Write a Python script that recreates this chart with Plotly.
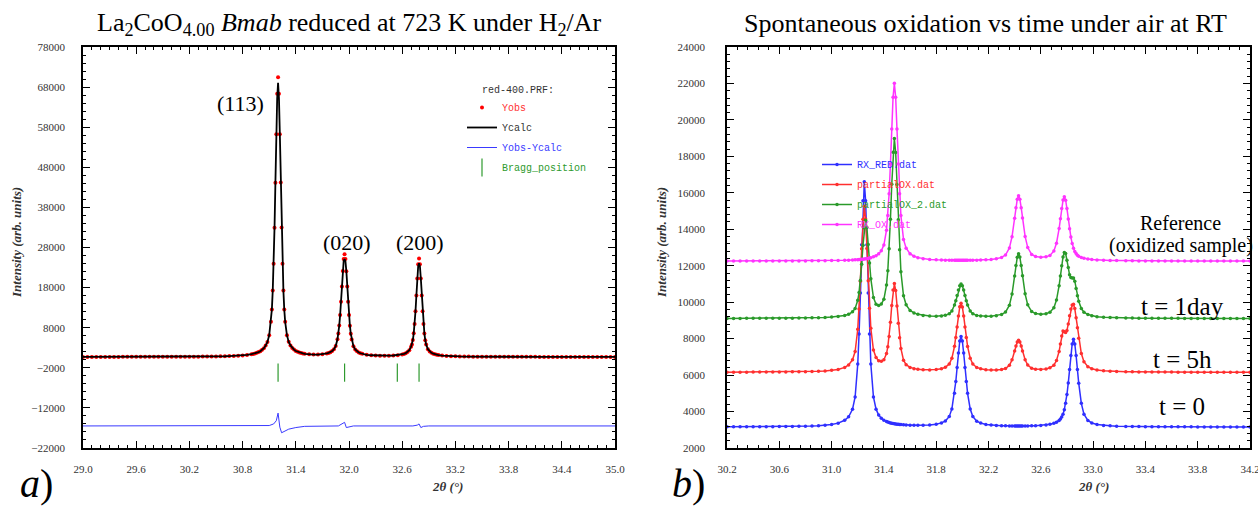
import plotly.graph_objects as go

# ---------------- panel (a): Rietveld fit of the reduced La2CoO4.00 ----------------
two_theta_a = [
    29.00, 29.05, 29.10, 29.15, 29.20, 29.25, 29.30, 29.35, 29.40, 29.45,
    29.50, 29.55, 29.60, 29.65, 29.70, 29.75, 29.80, 29.85, 29.90, 29.95,
    30.00, 30.05, 30.10, 30.15, 30.20, 30.25, 30.30, 30.35, 30.40, 30.45,
    30.50, 30.55, 30.60, 30.65, 30.70, 30.75, 30.80, 30.85, 30.90,
    30.92, 30.94, 30.96, 30.98, 31.00, 31.02, 31.04, 31.06, 31.08, 31.10, 31.12,
    31.13, 31.14, 31.15, 31.16, 31.17, 31.18, 31.19, 31.20, 31.21, 31.22,
    31.23, 31.24, 31.25, 31.26, 31.27, 31.28,
    31.30, 31.32, 31.34, 31.36, 31.38, 31.40, 31.42, 31.44, 31.46, 31.48, 31.50,
    31.55, 31.60, 31.65, 31.70, 31.75,
    31.77, 31.79, 31.81, 31.83, 31.85, 31.87,
    31.88, 31.89, 31.90, 31.91, 31.92, 31.93, 31.94, 31.95, 31.96, 31.97,
    31.98, 31.99, 32.00, 32.01, 32.02, 32.03,
    32.05, 32.07, 32.09, 32.11, 32.13, 32.15,
    32.20, 32.25, 32.30, 32.35, 32.40, 32.45, 32.50, 32.55, 32.60,
    32.62, 32.64, 32.66, 32.68, 32.70,
    32.71, 32.72, 32.73, 32.74, 32.75, 32.76, 32.77, 32.78, 32.79, 32.80,
    32.81, 32.82, 32.83, 32.84, 32.85, 32.86, 32.87,
    32.89, 32.91, 32.93, 32.95, 32.97, 32.99, 33.01,
    33.05, 33.10, 33.15, 33.20, 33.25, 33.30, 33.35, 33.40, 33.45, 33.50,
    33.55, 33.60, 33.65, 33.70, 33.75, 33.80, 33.85, 33.90, 33.95, 34.00,
    34.05, 34.10, 34.15, 34.20, 34.25, 34.30, 34.35, 34.40, 34.45, 34.50,
    34.55, 34.60, 34.65, 34.70, 34.75, 34.80, 34.85, 34.90, 34.95, 35.00,
]
y_obs = [
    717, 718, 718, 719, 720, 721, 722, 723, 724, 725,
    727, 728, 730, 732, 734, 736, 738, 741, 744, 747,
    751, 755, 759, 764, 771, 777, 786, 795, 806, 820,
    836, 857, 882, 914, 957, 1014, 1093, 1208, 1385,
    1472, 1583, 1734, 1915, 2126, 2477, 2898, 3530, 4431, 6112, 9454,
    12524, 17264, 23954, 32944, 44164, 56224, 66334, 70457, 66349, 56240,
    44180, 32960, 23970, 17280, 12540, 9480,
    6144, 4469, 3573, 2949, 2535, 2191, 1988, 1817, 1676, 1577, 1489,
    1354, 1297, 1306, 1387, 1574,
    1712, 1900, 2180, 2631, 3413, 5095,
    6532, 8520, 11177, 14465, 18282, 22109, 25157, 26337, 25155, 22103,
    18271, 14449, 11159, 8498, 6506, 5064,
    3370, 2578, 2116, 1826, 1626, 1476,
    1248, 1125, 1057, 1023, 1013, 1027, 1072, 1159, 1345,
    1470, 1656, 1922, 2380, 3257,
    3836, 4916, 6586, 8936, 12095, 16035, 20275, 23825, 25275, 23811,
    20261, 16021, 12081, 8921, 6571, 4901, 3821,
    2642, 2051, 1729, 1508, 1357, 1235, 1164,
    1040, 952, 895, 856, 828, 808, 793, 781, 772, 763,
    758, 752, 747, 744, 739, 737, 734, 732, 730, 728,
    726, 725, 723, 722, 721, 720, 719, 718, 717, 716,
    716, 715, 715, 714, 713, 713, 712, 712, 711, 711,
]
# calculated profile: identical to the observed one except at the peak tops
calc_top_theta = [31.19, 31.20, 31.21, 31.94, 31.95, 31.96, 32.78, 32.79, 32.80]
calc_top_value = [65200, 69100, 65300, 24700, 25100, 24600, 23300, 24100, 23300]

diff_theta = [29.00, 31.10, 31.15, 31.18, 31.20, 31.22, 31.24, 31.27, 31.32, 31.40,
              31.50, 31.88, 31.93, 31.95, 31.97, 32.00, 32.05, 32.72, 32.77, 32.79,
              32.81, 32.84, 32.90, 35.00]
diff_value = [-16500, -16400, -16000, -15200, -13300, -16800, -18200, -17900, -17300, -16900,
              -16600, -16500, -16000, -15600, -16900, -16700, -16500, -16500, -16300, -16000,
              -16900, -16600, -16500, -16500]

bragg_theta = [31.20, 31.95, 32.545, 32.79]
bragg_level = -3200

peak_hkl = ["(113)", "(020)", "(200)"]
peak_hkl_theta = [30.78, 31.98, 32.80]
peak_hkl_level = [64000, 29200, 29200]

ticks_a = [29.0, 29.6, 30.2, 30.8, 31.4, 32.0, 32.6, 33.2, 33.8, 34.4, 35.0]
ticks_b = [30.2, 30.6, 31.0, 31.4, 31.8, 32.2, 32.6, 33.0, 33.4, 33.8, 34.2]

# ---------------- panel (b): spontaneous re-oxidation ----------------
two_theta_b = [
    30.20, 30.25, 30.30, 30.35, 30.40, 30.45, 30.50, 30.55, 30.60, 30.65,
    30.70, 30.75, 30.80, 30.85, 30.90, 30.95, 31.00, 31.05,
    31.10, 31.13, 31.16, 31.18, 31.20, 31.21, 31.22, 31.23, 31.24, 31.25,
    31.26, 31.27, 31.28, 31.29, 31.30,
    31.32, 31.34, 31.36, 31.38, 31.40, 31.42, 31.43, 31.44, 31.45, 31.46,
    31.47, 31.48, 31.49, 31.50, 31.51, 31.52, 31.53,
    31.55, 31.57, 31.60, 31.63, 31.66, 31.70, 31.75, 31.80, 31.84, 31.87,
    31.90, 31.92, 31.94, 31.95, 31.96, 31.97, 31.98, 31.99, 32.00, 32.01,
    32.02, 32.03, 32.04,
    32.06, 32.08, 32.11, 32.14, 32.18, 32.22, 32.26, 32.30, 32.33, 32.36, 32.38,
    32.40, 32.41, 32.42, 32.43, 32.44, 32.45, 32.46,
    32.48, 32.50, 32.53, 32.56, 32.60, 32.64, 32.67, 32.70, 32.72,
    32.74, 32.75, 32.76, 32.77, 32.78, 32.79, 32.80, 32.81, 32.82, 32.83,
    32.84, 32.85, 32.86, 32.87, 32.88, 32.89,
    32.91, 32.93, 32.96, 32.99, 33.03, 33.08, 33.13, 33.18,
    33.25, 33.30, 33.35, 33.40, 33.45, 33.50, 33.55, 33.60, 33.65, 33.70,
    33.75, 33.80, 33.85, 33.90, 33.95, 34.00, 34.05, 34.10, 34.15, 34.20,
]
rx_red = [
    3160, 3161, 3162, 3164, 3165, 3166, 3168, 3171, 3175, 3179,
    3184, 3190, 3197, 3209, 3225, 3250, 3291, 3364,
    3521, 3709, 4127, 4800, 6602, 8257, 10504, 13153, 15561, 16610,
    15562, 13154, 10505, 8260, 6605,
    4804, 4131, 3810, 3636, 3529, 3449, 3423, 3396, 3375, 3359,
    3342, 3329, 3318, 3306, 3298, 3289, 3284,
    3271, 3263, 3254, 3249, 3248, 3252, 3267, 3306, 3377, 3479,
    3730, 4144, 5005, 5648, 6415, 7211, 7865, 8122, 7865, 7210,
    6413, 5646, 5002,
    4140, 3725, 3472, 3368, 3294, 3257, 3236, 3222, 3215, 3211, 3209,
    3208, 3207, 3207, 3207, 3207, 3207, 3208,
    3209, 3212, 3217, 3224, 3240, 3267, 3299, 3356, 3413,
    3513, 3585, 3700, 3858, 4102, 4452, 4937, 5561, 6305, 7077,
    7710, 7960, 7710, 7077, 6303, 5559,
    4450, 3855, 3509, 3374, 3292, 3241, 3215, 3198,
    3184, 3178, 3173, 3170, 3167, 3165, 3163, 3162, 3161, 3160,
    3159, 3158, 3158, 3157, 3157, 3156, 3156, 3155, 3155, 3155,
]
partial_ox = [
    6159, 6160, 6161, 6162, 6163, 6164, 6166, 6168, 6171, 6174,
    6177, 6182, 6189, 6198, 6211, 6229, 6260, 6312,
    6422, 6553, 6840, 7296, 8514, 9630, 11144, 12931, 14555, 15265,
    14565, 12951, 11174, 9671, 8568,
    7378, 6960, 6791, 6756, 6840, 7181, 7553, 8120, 8899, 9823,
    10663, 11025, 10647, 9789, 8848, 8048, 7460,
    6816, 6573, 6421, 6352, 6314, 6288, 6282, 6301, 6349, 6424,
    6612, 6926, 7577, 8064, 8644, 9248, 9743, 9937, 9742, 9247,
    8643, 8062, 7575,
    6923, 6609, 6420, 6344, 6294, 6276, 6277, 6303, 6359, 6540, 6835,
    7320, 7593, 7818, 7907, 7819, 7595, 7323,
    6841, 6549, 6374, 6324, 6313, 6340, 6398, 6541, 6800,
    7300, 7700, 8150, 8420, 8380, 8330, 8450, 8800, 9250, 9620,
    9850, 9880, 9650, 9150, 8591, 8025,
    7184, 6732, 6461, 6351, 6281, 6237, 6213, 6198,
    6185, 6179, 6174, 6171, 6168, 6166, 6164, 6163, 6162, 6161,
    6160, 6160, 6159, 6159, 6158, 6158, 6157, 6157, 6157, 6156,
]
partial_ox_2 = [
    9109, 9110, 9111, 9112, 9113, 9114, 9115, 9117, 9119, 9121,
    9124, 9128, 9133, 9140, 9148, 9161, 9181, 9213,
    9274, 9341, 9472, 9654, 10101, 10538, 11192, 12077, 13122, 14073,
    14493, 14095, 13166, 12146, 11288,
    10256, 9889, 9816, 9894, 10163, 10940, 11730, 12925, 14551, 16473,
    18222, 18979, 18210, 16451, 14517, 12876, 11668,
    10350, 9856, 9550, 9411, 9332, 9274, 9239, 9232, 9247, 9279,
    9368, 9521, 9841, 10081, 10367, 10665, 10908, 11004, 10908, 10664,
    10366, 10079, 9839,
    9519, 9365, 9276, 9243, 9227, 9235, 9262, 9331, 9456, 9834, 10443,
    11442, 12007, 12470, 12653, 12472, 12012, 11450,
    10456, 9853, 9486, 9375, 9336, 9365, 9449, 9694, 10115,
    10903, 11435, 12000, 12483, 12730, 12666, 12300, 11900, 11500, 11350,
    11320, 11330, 11150, 10750, 10350, 10050,
    9650, 9450, 9320, 9254, 9207, 9174, 9156, 9144,
    9132, 9127, 9123, 9120, 9118, 9115, 9114, 9113, 9112, 9111,
    9110, 9110, 9109, 9109, 9108, 9108, 9107, 9107, 9107, 9106,
]
rx_ox = [
    12255, 12255, 12256, 12256, 12257, 12257, 12258, 12259, 12260, 12261,
    12262, 12264, 12266, 12268, 12271, 12275, 12280, 12286,
    12296, 12304, 12314, 12322, 12332, 12337, 12344, 12351, 12359, 12368,
    12378, 12391, 12403, 12419, 12438,
    12486, 12553, 12654, 12820, 13142, 13951, 14751, 15950, 17578, 19499,
    21244, 22005, 21244, 19499, 17579, 15950, 14751,
    13445, 12958, 12657, 12521, 12444, 12384, 12345, 12323, 12311, 12306,
    12302, 12300, 12298, 12298, 12297, 12297, 12297, 12296, 12297, 12297,
    12297, 12297, 12298,
    12300, 12302, 12307, 12313, 12325, 12347, 12383, 12458, 12588, 12973, 13592,
    14606, 15179, 15649, 15835, 15652, 15185, 14615,
    13607, 12995, 12621, 12507, 12464, 12487, 12567, 12809, 13236,
    14040, 14580, 15142, 15602, 15782, 15599, 15135, 14570, 14027, 13570,
    13216, 12959, 12780, 12664, 12579, 12525,
    12450, 12407, 12364, 12338, 12315, 12298, 12287, 12280,
    12272, 12269, 12266, 12264, 12262, 12261, 12260, 12259, 12258, 12257,
    12257, 12256, 12256, 12255, 12255, 12255, 12254, 12254, 12254, 12254,
]
series_b = [
    ("RX_RED.dat", rx_red, "#2f2fff"),
    ("partialOX.dat", partial_ox, "#ff2f2f"),
    ("partialOX_2.dat", partial_ox_2, "#2a9a2a"),
    ("RX_OX.dat", rx_ox, "#ff33ff"),
]
stage_labels = ["Reference", "(oxidized sample)", "t = 1day", "t = 5h", "t = 0"]
stage_theta = [33.665, 33.672, 33.68, 33.68, 33.68]
stage_level = [14360, 13090, 9760, 6880, 4280]
stage_size = [20, 20, 25, 25, 25]

# ---------------- figure ----------------
SERIF = "Liberation Serif"
MONO = "Liberation Mono"
W, H = 1258, 509


def colored(text, color):
    return f"<span style='color:{color}'>{text}</span>"


def paper_text(text, x_px, y_px, size, color="black", angle=0):
    return dict(text=text, x=x_px / W, y=1 - y_px / H, xref="paper", yref="paper",
                xanchor="center", yanchor="middle", showarrow=False, textangle=angle,
                font=dict(family=SERIF, size=size, color=color))


top_lookup = dict(zip(calc_top_theta, calc_top_value))
y_calc = [top_lookup.get(t, v) for t, v in zip(two_theta_a, y_obs)]

fig = go.Figure()

fig.add_trace(go.Scatter(
    x=two_theta_a, y=y_obs, mode="markers", name=colored("Yobs", "#ff3030"),
    marker=dict(color="#ff0000", size=4), xaxis="x", yaxis="y",
    legend="legend", legendgroup="obs"))
fig.add_trace(go.Scatter(
    x=two_theta_a, y=y_calc, mode="lines", name=colored("Ycalc", "#333333"),
    line=dict(color="black", width=1.8), xaxis="x", yaxis="y",
    legend="legend", legendgroup="calc"))
fig.add_trace(go.Scatter(
    x=diff_theta, y=diff_value, mode="lines", name=colored("Yobs-Ycalc", "#3a3aff"),
    line=dict(color="#3a3aff", width=1), xaxis="x", yaxis="y",
    legend="legend", legendgroup="diff"))
fig.add_trace(go.Scatter(
    x=bragg_theta, y=[bragg_level] * len(bragg_theta), mode="markers",
    name=colored("Bragg_position", "#2e9a2e"),
    marker=dict(symbol="line-ns", size=13, color="#2e9a2e",
                line=dict(color="#2e9a2e", width=1.2)),
    xaxis="x", yaxis="y", legend="legend", legendgroup="bragg"))

for name, values, color in series_b:
    fig.add_trace(go.Scatter(
        x=two_theta_b, y=values, mode="lines+markers", name=colored(name, color),
        line=dict(color=color, width=1.5), marker=dict(color=color, size=3.5),
        xaxis="x2", yaxis="y2", legend="legend2", legendgroup=name))

tick_font = dict(family=SERIF, size=11, color="#333333")
common_axis = dict(
    showline=True, linecolor="black", linewidth=1.5, mirror="allticks",
    ticks="inside", ticklen=7, tickwidth=1.2, tickcolor="black",
    showgrid=False, zeroline=False, tickfont=tick_font,
    automargin=False, ticklabeloverflow="allow",
)
minor_axis = dict(ticks="inside", ticklen=3.5, tickwidth=1, tickcolor="black",
                  showgrid=False, tickmode="linear")

y_dom = [1 - 448 / H, 1 - 47 / H]

fig.update_layout(
    width=W, height=H, margin=dict(l=0, r=0, t=0, b=0, autoexpand=False),
    paper_bgcolor="white", plot_bgcolor="white",
    xaxis=dict(common_axis, domain=[83 / W, 615 / W], range=[29, 35], anchor="y",
               tickmode="array", tickvals=ticks_a, ticktext=[f"{v:.1f}" for v in ticks_a],
               ticklabelstandoff=10, minor=dict(minor_axis, tick0=29, dtick=0.1)),
    yaxis=dict(common_axis, domain=y_dom, range=[-22000, 78000], anchor="x",
               tickmode="linear", tick0=-22000, dtick=10000, tickformat="d",
               ticklabelstandoff=14, minor=dict(minor_axis, tick0=-22000, dtick=2000)),
    xaxis2=dict(common_axis, domain=[727 / W, 1250 / W], range=[30.2, 34.2], anchor="y2",
                tickmode="array", tickvals=ticks_b, ticktext=[f"{v:.1f}" for v in ticks_b],
                ticklabelstandoff=10, minor=dict(minor_axis, tick0=30.2, dtick=0.08)),
    yaxis2=dict(common_axis, domain=y_dom, range=[2000, 24000], anchor="x2",
                tickmode="linear", tick0=2000, dtick=2000, tickformat="d",
                ticklabelstandoff=18, minor=dict(minor_axis, tick0=2000, dtick=400)),
    legend=dict(
        x=462 / W, y=1 - 80 / H, xanchor="left", yanchor="top",
        bgcolor="rgba(0,0,0,0)", borderwidth=0, tracegroupgap=1,
        font=dict(family=MONO, size=10, color="#333333"),
        title=dict(text="&nbsp;&nbsp;&nbsp;red-400.PRF:", side="top",
                   font=dict(family=MONO, size=10, color="#333333")),
    ),
    legend2=dict(
        x=817 / W, y=1 - 150 / H, xanchor="left", yanchor="top",
        bgcolor="rgba(0,0,0,0)", borderwidth=0, tracegroupgap=1,
        font=dict(family=MONO, size=10, color="#333333"),
    ),
    showlegend=True,
)

annotations = [
    paper_text("La<sub>2</sub>CoO<sub>4.00</sub> <i>Bmab</i> reduced at 723 K under H<sub>2</sub>/Ar",
               350, 24, 26),
    paper_text("Spontaneous oxidation vs time under air at RT", 985, 24, 26),
    paper_text("<b><i>Intensity (arb. units)</i></b>", 17, 243, 13, "#333333", -90),
    paper_text("<b><i>Intensity (arb. units)</i></b>", 662, 243, 13, "#333333", -90),
    paper_text("<b><i>2θ (°)</i></b>", 448, 486, 13, "#333333"),
    paper_text("<b><i>2θ (°)</i></b>", 1093, 486, 13, "#333333"),
    paper_text("<i>a</i>)", 36, 483, 40),
    paper_text("<i>b</i>)", 688, 483, 40),
]
for label, t, lvl in zip(peak_hkl, peak_hkl_theta, peak_hkl_level):
    annotations.append(dict(text=label, x=t, y=lvl, xref="x", yref="y", showarrow=False,
                            xanchor="center", yanchor="middle",
                            font=dict(family=SERIF, size=22, color="black")))
for label, t, lvl, size in zip(stage_labels, stage_theta, stage_level, stage_size):
    annotations.append(dict(text=label, x=t, y=lvl, xref="x2", yref="y2", showarrow=False,
                            xanchor="center", yanchor="middle",
                            font=dict(family=SERIF, size=size, color="black")))
fig.update_layout(annotations=annotations)

fig.write_html("out.html")
